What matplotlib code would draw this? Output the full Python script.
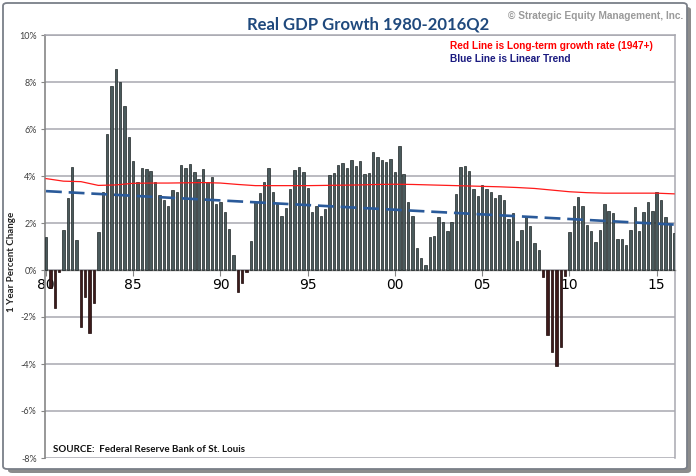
import numpy as np
import matplotlib
matplotlib.use("Agg")
import matplotlib.pyplot as plt
from matplotlib.patches import FancyBboxPatch

# Year-over-year real GDP growth (%), quarterly, 1980Q1 onward
growth = [
    1.42, -0.75, -1.62, -0.07, 1.70, 3.05, 4.40, 1.28,          # 1980-81
    -2.41, -1.17, -2.66, -1.42, 1.60, 3.34, 5.77, 7.83,         # 1982-83
    8.57, 8.00, 6.98, 5.65, 4.64, 3.76, 4.35, 4.28,             # 1984-85
    4.23, 3.76, 3.20, 2.98, 2.72, 3.40, 3.30, 4.46,             # 1986-87
    4.34, 4.52, 4.18, 3.86, 4.31, 3.75, 3.95, 2.81,             # 1988-89
    2.88, 2.47, 1.73, 0.64, -0.92, -0.54, -0.09, 1.24,          # 1990-91
    2.91, 3.26, 3.76, 4.34, 3.30, 2.81, 2.30, 2.62,             # 1992-93
    3.44, 4.26, 4.37, 4.15, 3.48, 2.45, 2.71, 2.30,             # 1994-95
    2.61, 4.04, 4.11, 4.47, 4.57, 4.34, 4.69, 4.43,             # 1996-97
    4.63, 4.08, 4.11, 5.01, 4.82, 4.68, 4.61, 4.71,             # 1998-99
    4.17, 5.28, 4.08, 2.91, 2.31, 0.95, 0.51, 0.21,             # 2000-01
    1.42, 1.44, 2.27, 2.04, 1.67, 2.03, 3.23, 4.38,             # 2002-03
    4.43, 4.23, 3.44, 3.14, 3.63, 3.43, 3.33, 3.05,             # 2004-05
    3.19, 2.97, 2.19, 2.41, 1.25, 1.72, 2.31, 1.87,             # 2006-07
    1.13, 0.85, -0.30, -2.78, -3.48, -4.10, -3.26, -0.25,       # 2008-09
    1.63, 2.72, 3.09, 2.74, 1.90, 1.67, 1.19, 1.70,             # 2010-11
    2.79, 2.51, 2.41, 1.30, 1.32, 1.06, 1.70, 2.67,             # 2012-13
    1.66, 2.47, 2.91, 2.51, 3.33, 2.98, 2.27, 1.91,             # 2014-15
    1.59,                                                        # 2016
]

# Long-term growth rate (1947+), read at each year's first quarter
longterm_q = [0, 4, 8, 12, 16, 20, 24, 28, 32, 36, 40, 44, 48, 52, 56, 60, 64, 68, 72,
              76, 80, 84, 88, 92, 96, 100, 104, 108, 112, 116, 120, 124, 128, 132, 136, 140, 144]
longterm_rate = [3.89, 3.78, 3.76, 3.60, 3.62, 3.69, 3.70, 3.70, 3.71, 3.72, 3.70, 3.64,
                 3.59, 3.59, 3.59, 3.59, 3.60, 3.61, 3.62, 3.64, 3.65, 3.64, 3.62, 3.60,
                 3.58, 3.56, 3.54, 3.51, 3.47, 3.40, 3.33, 3.29, 3.27, 3.27, 3.27, 3.27, 3.24]

year_labels = ["80", "85", "90", "95", "00", "05", "10", "15"]
year_label_q = [0, 20, 40, 60, 80, 100, 120, 140]
y_ticks = [-8, -6, -4, -2, 0, 2, 4, 6, 8, 10]

W, H = 696, 476
fig = plt.figure(figsize=(W / 100, H / 100), dpi=100)
fig.patch.set_facecolor("white")

def fx(px):
    return px / W

def fy(py):
    return 1 - py / H

# outer frame with shadow
shadow = FancyBboxPatch((fx(8), fy(473)), fx(683), 466 / H, transform=fig.transFigure,
                        boxstyle="round,pad=0,rounding_size=0.006", facecolor="#8c8c8c",
                        edgecolor="none", zorder=0)
frame = FancyBboxPatch((fx(3), fy(469)), fx(684), 466 / H, transform=fig.transFigure,
                       boxstyle="round,pad=0,rounding_size=0.006", facecolor="white",
                       edgecolor="#7a7f88", linewidth=1.3, zorder=1)
fig.patches.extend([shadow, frame])

ax = fig.add_axes([fx(45), fy(458), 630 / W, 423 / H], zorder=2)
ax.set_facecolor("none")

x = np.arange(len(growth))
vals = np.array(growth)
colors = np.where(vals >= 0, "#4a5a5c", "#3d1b1b")
edges = np.where(vals >= 0, "#1f2626", "#1a0808")
ax.bar(x, vals, width=0.55, color=colors, edgecolor=edges, linewidth=0.5, zorder=3)

# linear trend
coef = np.polyfit(x, vals, 1)
xt = np.array([0, x[-1]])
ax.plot(xt, np.polyval(coef, xt), color="#2a5a9a", lw=1.9, dashes=(6, 2.6), zorder=5)

# long-term growth rate
ax.plot(longterm_q, longterm_rate, color="#ff1a1a", lw=0.9, zorder=4)

ax.set_xlim(-0.23, 144.2)
ax.set_ylim(-8, 10)
ax.set_yticks(y_ticks)
ax.set_yticklabels([f"{v}%" for v in y_ticks], fontsize=6.5, color="#404040", family="Lato")
ax.set_xticks(year_label_q)
ax.set_xticklabels(year_labels, fontsize=7.5, color="#404040", family="Lato")
ax.yaxis.grid(True, color="#a8a8b0", lw=1.1, zorder=0)
ax.set_axisbelow(True)

ax.spines["bottom"].set_position(("data", 0))
ax.spines["bottom"].set_color("#868686")
ax.spines["bottom"].set_linewidth(1.0)
ax.spines["left"].set_color("#868686")
ax.spines["left"].set_linewidth(1.2)
ax.spines["top"].set_color("#a8a8b0")
ax.spines["right"].set_color("#a8a8b0")
ax.spines["top"].set_linewidth(1.1)
ax.spines["right"].set_linewidth(1.1)
ax.tick_params(axis="x", direction="out", length=4, color="#868686", pad=2)
ax.tick_params(axis="y", direction="out", length=3, color="#868686", pad=3)

# y-axis title
fig.text(fx(12), fy(262), "1 Year Percent Change", rotation=90, ha="center", va="center",
         fontsize=7, fontweight="bold", family="Lato", color="#222222")

# texts
fig.text(fx(368), fy(25), "Real GDP Growth 1980-2016Q2", ha="center", va="center",
         fontsize=12, fontweight="bold", color="#1f497d", family="Lato")
fig.text(fx(683), fy(16), "\u00a9 Strategic Equity Management, Inc.", ha="right", va="center",
         fontsize=7.3, fontweight="bold", color="#9a9a9a", family="Liberation Sans")
fig.text(fx(450), fy(46), "Red Line is Long-term growth rate (1947+)", ha="left", va="center",
         fontsize=7.3, fontweight="bold", color="#ff0000", family="Liberation Sans")
fig.text(fx(450), fy(59), "Blue Line is Linear Trend", ha="left", va="center",
         fontsize=7.3, fontweight="bold", color="#1a1a80", family="Liberation Sans")
fig.text(fx(53), fy(449), "SOURCE:  Federal Reserve Bank of St. Louis", ha="left", va="center",
         fontsize=7, fontweight="bold", color="#111111", family="Lato")

fig.savefig("out.png", dpi=100, facecolor="white")
